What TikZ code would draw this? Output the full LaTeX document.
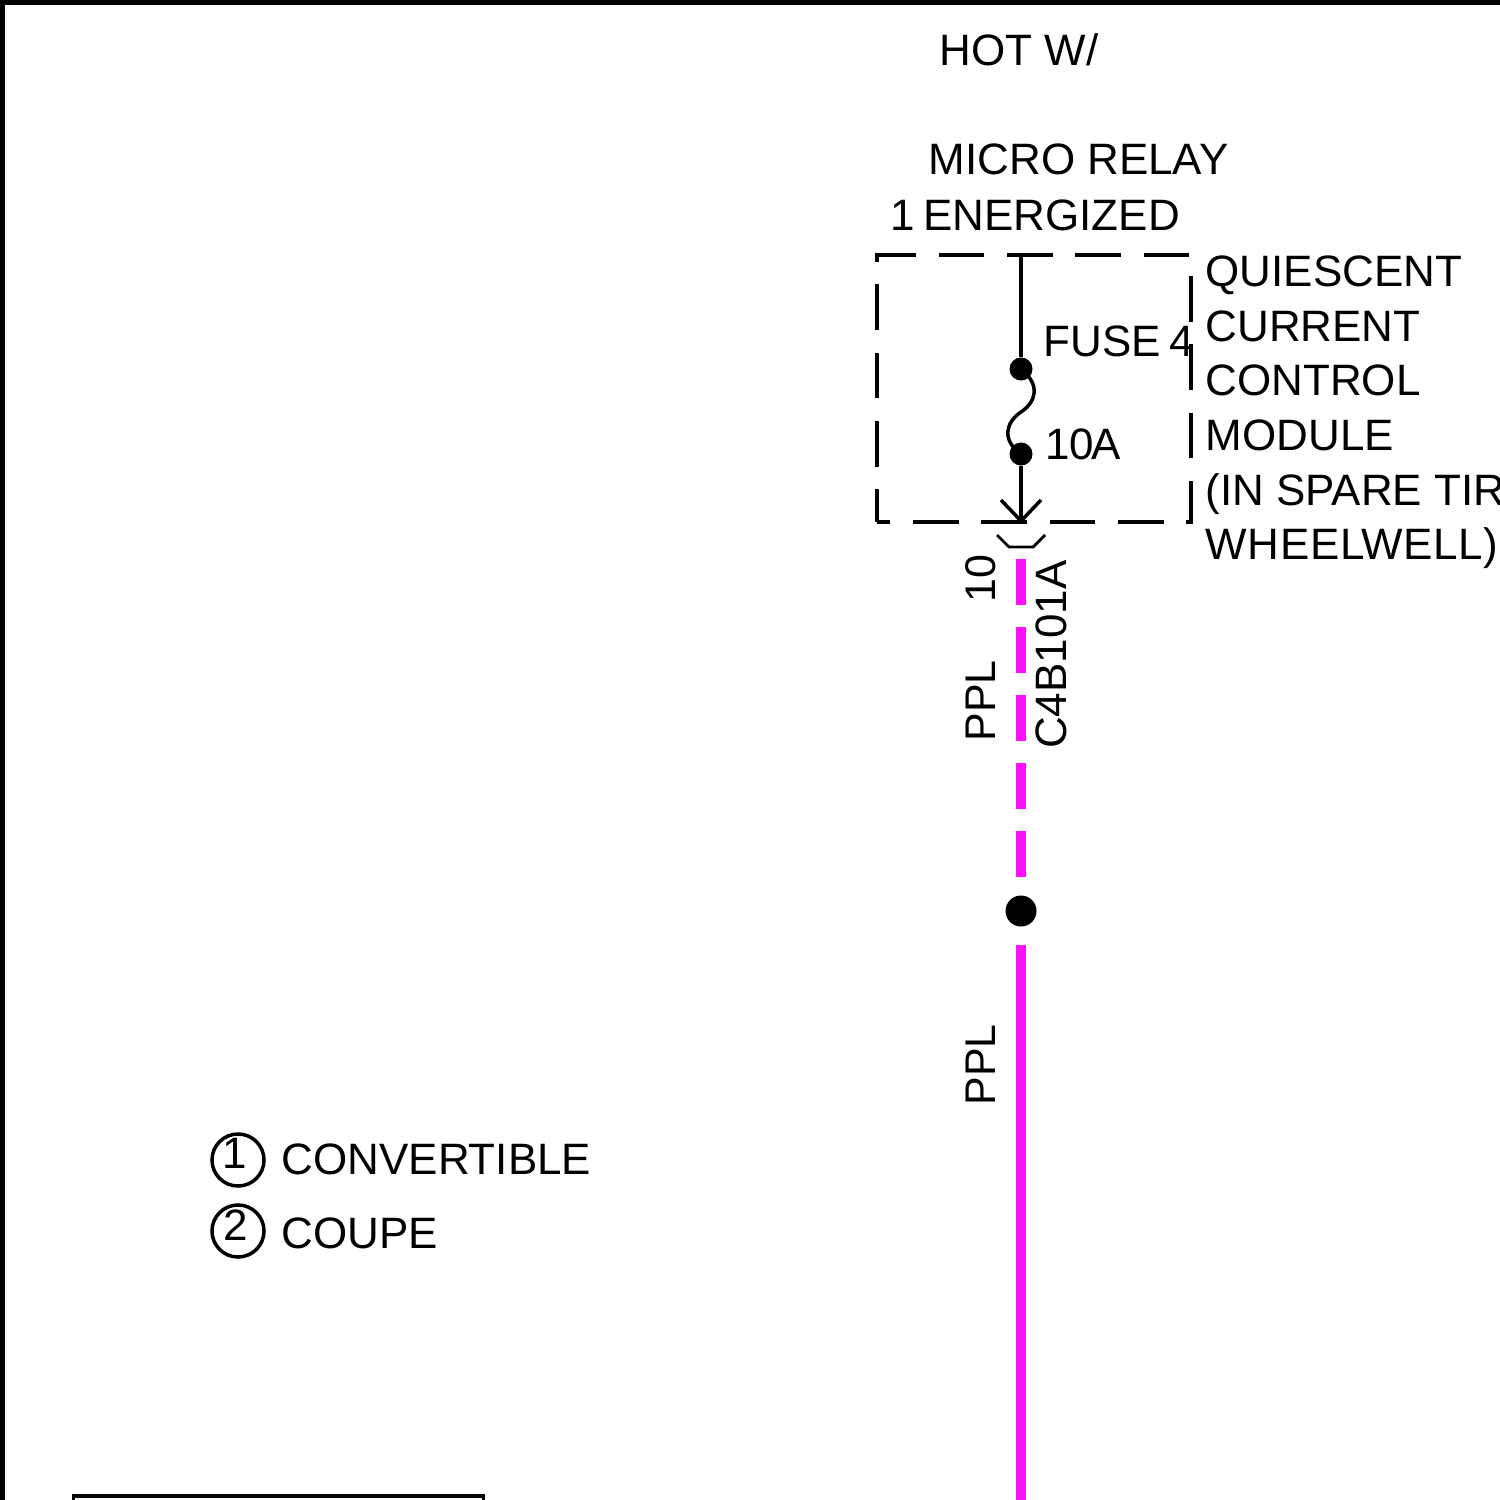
\documentclass[tikz,border=0pt]{standalone}
\usepackage{fontspec}
\setmainfont{Liberation Sans}
\definecolor{wirePPL}{RGB}{252,18,250}

\begin{document}
\begin{tikzpicture}[
    x=0.01cm,
    y=-0.01cm,
    label/.style={%
      inner sep=0pt,
      anchor=base west,
      font=\fontsize{12.5}{15.56}\selectfont,
    },
    sidelabel/.style={%
      label,
      rotate=90,
    },
    wire/.style={%
      line width=0.035cm,
    },
    pplwire/.style={%
      line width=0.093cm,
      color=wirePPL,
    },
    splice/.style={%
      draw=none,
      fill,
      circle,
      inner sep=0pt,
      minimum size=0.23cm,
    },
    legendmark/.style={%
      draw,
      circle,
      line width=0.035cm,
      inner sep=0pt,
      minimum size=0.52cm,
    },
  ]

    \useasboundingbox (0,0) rectangle (1500,1500);
    \clip (0,0) rectangle (1500,1500);

    % page frame and box at the bottom
    \draw [line width=0.1cm] (0,1520) -- (0,0) -- (1520,0);
    \draw [wire] (73.5,1520) -- (73.5,1496) -- (483.5,1496) -- (483.5,1520);

    % module box
    \coordinate (boxSW) at (877,522);
    \coordinate (boxNW) at (877,255);
    \coordinate (boxNE) at (1191,255);
    \coordinate (boxSE) at (1191,522);
    \draw [wire,dash pattern=on 0.455cm off 0.228cm,dash phase=0.13cm]
      (boxSW) -- (boxNW) -- (boxNE) -- (boxSE) -- cycle;

    % fuse and pin
    \coordinate (feed) at (1021,255);
    \node [splice] (fuseA) at (1021,369) {};
    \node [splice] (fuseB) at (1021,454) {};
    \coordinate (pin) at (1021,521);
    \draw [wire] (feed) -- (fuseA);
    \draw [wire] (fuseA.center) .. controls (1041,385) and (1036,402) .. (1021,412)
      .. controls (1006,422) and (1001,440) .. (fuseB.center);
    \draw [wire] (fuseB) -- (pin);
    \draw [wire] (pin) ++(-20,-21) -- (pin) -- ++(20,-21);
    \draw [wire,line width=0.028cm] (997,535) -- (1009,547) -- (1033,547) -- (1045,535);

    % wire below the connector
    \coordinate (wireTop) at (1021,559);
    \coordinate (wireEnd) at (1021,877);
    \node [splice,minimum size=0.31cm] (joint) at (1021,911) {};
    \coordinate (wireOn) at (1021,945);
    \coordinate (wireOut) at (1021,1510);
    \draw [pplwire,dash pattern=on 0.455cm off 0.225cm] (wireTop) -- (wireEnd);
    \draw [pplwire] (wireOn) -- (wireOut);

    % texts
    \node [label] (hot) at (939,66) {HOT W/};
    \node [label] (relay) at (928,175) {MICRO RELAY};
    \node [label] (energized) at (890,230.5) {1\kern-0.04cm\ ENERGIZED};
    \node [label,anchor=north west,align=left] (module) at (1205,255) {QUIESCENT\\CURRENT\\CONTROL\\MODULE\\(IN SPARE TIR\\{\addfontfeature{LetterSpace=1.4}WHEELWELL)}};
    \node [label] (fuse) at (1043,356.5) {FUSE\kern-0.04cm\ 4};
    \node [label] (rating) at (1044.5,459.5) {10\kern-0.03cmA};
    \node [sidelabel,font=\fontsize{12.2}{15}\selectfont] (pinNum) at (995,603) {10};
    \node [sidelabel,font=\fontsize{12.2}{15}\selectfont] (pplA) at (995,742) {PPL};
    \node [sidelabel] (conn) at (1066,749.5) {C4B101A};
    \node [sidelabel,font=\fontsize{12.2}{15}\selectfont] (pplB) at (995,1106) {PPL};

    % legend
    \node [legendmark] (markA) at (238,1160) {};
    \node [legendmark] (markB) at (238,1231) {};
    \node [label,anchor=base] (numA) at (235,1168) {1};
    \node [label,anchor=base] (numB) at (236,1240) {2};
    \node [label] (conv) at (281,1174.5) {CONVERTIBLE};
    \node [label] (coupe) at (281,1248.5) {COUPE};
    \end{tikzpicture}
\end{document}
